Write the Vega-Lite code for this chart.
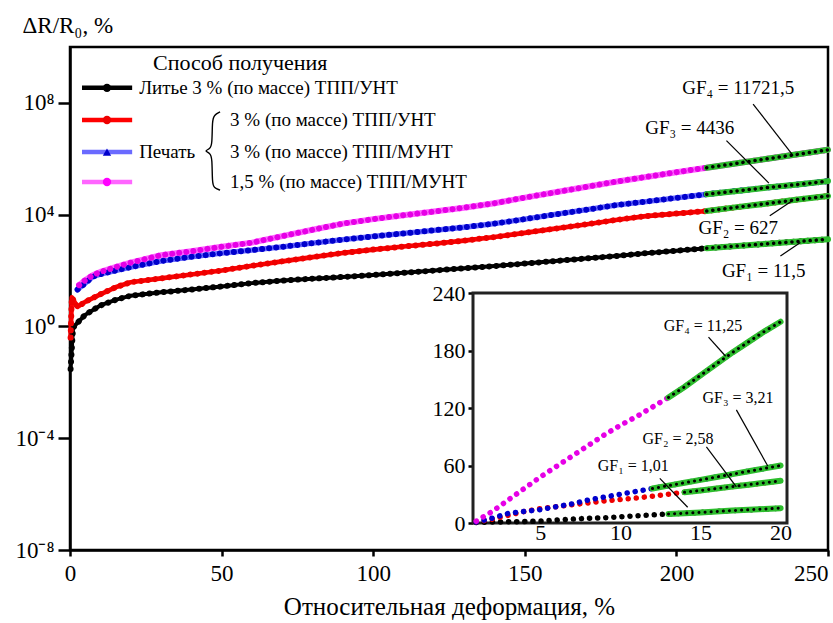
{
  "$schema": "https://vega.github.io/schema/vega-lite/v6.json",
  "width": 758,
  "height": 503,
  "autosize": {"type": "none"},
  "padding": {"left": 70, "top": 47, "right": 5, "bottom": 73},
  "background": "white",
  "config": {
    "font": "Liberation Serif",
    "view": {"stroke": "black", "strokeWidth": 2.5},
    "axis": {"grid": false, "domainColor": "black", "domainWidth": 2.5, "tickColor": "black", "tickWidth": 2.5, "labelFont": "Liberation Serif", "labelColor": "black", "titleFont": "Liberation Serif", "titleFontWeight": "normal", "titleColor": "black"},
    "text": {"font": "Liberation Serif", "color": "black"}
  },
  "datasets": {
    "main": [
      {"s":"cast","x":0.2,"y":0.03},{"s":"cast","x":1,"y":0.9},{"s":"cast","x":2.2,"y":1.26},{"s":"cast","x":5,"y":2.6},{"s":"cast","x":10,"y":5.62},{"s":"cast","x":15,"y":8.91},{"s":"cast","x":20,"y":12.6},{"s":"cast","x":30,"y":16.6},{"s":"cast","x":40,"y":20.9},{"s":"cast","x":50,"y":26.9},{"s":"cast","x":60,"y":35.5},{"s":"cast","x":70,"y":43.7},{"s":"cast","x":80,"y":51.3},{"s":"cast","x":90,"y":58.9},{"s":"cast","x":100,"y":69.2},{"s":"cast","x":110,"y":83.2},{"s":"cast","x":120,"y":100},{"s":"cast","x":130,"y":120},{"s":"cast","x":140,"y":145},{"s":"cast","x":150,"y":178},{"s":"cast","x":160,"y":219},{"s":"cast","x":170,"y":269},{"s":"cast","x":180,"y":331},{"s":"cast","x":190,"y":417},{"s":"cast","x":200,"y":513},{"s":"cast","x":210,"y":631},{"s":"cast","x":220,"y":759},{"s":"cast","x":230,"y":912},{"s":"cast","x":240,"y":1096},{"s":"cast","x":250,"y":1318},
      {"s":"p1","x":0.2,"y":0.4},{"s":"p1","x":0.6,"y":11},{"s":"p1","x":2.5,"y":5.0},{"s":"p1","x":5,"y":7.6},{"s":"p1","x":10,"y":14.1},{"s":"p1","x":15,"y":25.1},{"s":"p1","x":20,"y":38},{"s":"p1","x":30,"y":52.5},{"s":"p1","x":40,"y":72.4},{"s":"p1","x":50,"y":100},{"s":"p1","x":60,"y":148},{"s":"p1","x":70,"y":214},{"s":"p1","x":80,"y":302},{"s":"p1","x":90,"y":427},{"s":"p1","x":100,"y":562},{"s":"p1","x":110,"y":724},{"s":"p1","x":120,"y":912},{"s":"p1","x":130,"y":1175},{"s":"p1","x":140,"y":1585},{"s":"p1","x":150,"y":2239},{"s":"p1","x":160,"y":3162},{"s":"p1","x":170,"y":4467},{"s":"p1","x":180,"y":6457},{"s":"p1","x":190,"y":8913},{"s":"p1","x":200,"y":10960},{"s":"p1","x":210,"y":13490},{"s":"p1","x":220,"y":18620},{"s":"p1","x":230,"y":25120},{"s":"p1","x":240,"y":34670},{"s":"p1","x":250,"y":46770},
      {"s":"p2","x":2.5,"y":21},{"s":"p2","x":5,"y":35},{"s":"p2","x":7.5,"y":60},{"s":"p2","x":10,"y":74},{"s":"p2","x":15,"y":100},{"s":"p2","x":20,"y":132},{"s":"p2","x":30,"y":219},{"s":"p2","x":40,"y":309},{"s":"p2","x":50,"y":417},{"s":"p2","x":60,"y":537},{"s":"p2","x":70,"y":708},{"s":"p2","x":80,"y":955},{"s":"p2","x":90,"y":1288},{"s":"p2","x":100,"y":1660},{"s":"p2","x":110,"y":2138},{"s":"p2","x":120,"y":2754},{"s":"p2","x":130,"y":3548},{"s":"p2","x":140,"y":4786},{"s":"p2","x":150,"y":6918},{"s":"p2","x":160,"y":10230},{"s":"p2","x":170,"y":14790},{"s":"p2","x":180,"y":21880},{"s":"p2","x":190,"y":29510},{"s":"p2","x":200,"y":39810},{"s":"p2","x":210,"y":53700},{"s":"p2","x":220,"y":70790},{"s":"p2","x":230,"y":93330},{"s":"p2","x":240,"y":120200},{"s":"p2","x":250,"y":158500},
      {"s":"p3","x":3,"y":30},{"s":"p3","x":5,"y":45},{"s":"p3","x":7.5,"y":68},{"s":"p3","x":10,"y":89},{"s":"p3","x":15,"y":132},{"s":"p3","x":20,"y":191},{"s":"p3","x":30,"y":355},{"s":"p3","x":40,"y":490},{"s":"p3","x":50,"y":708},{"s":"p3","x":60,"y":1000},{"s":"p3","x":70,"y":1698},{"s":"p3","x":80,"y":2884},{"s":"p3","x":90,"y":4786},{"s":"p3","x":100,"y":6918},{"s":"p3","x":110,"y":9550},{"s":"p3","x":120,"y":12880},{"s":"p3","x":130,"y":17780},{"s":"p3","x":140,"y":25700},{"s":"p3","x":150,"y":40740},{"s":"p3","x":160,"y":63100},{"s":"p3","x":170,"y":97720},{"s":"p3","x":180,"y":151400},{"s":"p3","x":190,"y":223900},{"s":"p3","x":200,"y":331100},{"s":"p3","x":210,"y":478600},{"s":"p3","x":220,"y":691800},{"s":"p3","x":230,"y":1000000},{"s":"p3","x":240,"y":1445000},{"s":"p3","x":250,"y":2089000}
    ],
    "inset": [
      {"s":"cast","x":1,"y":0.5},{"s":"cast","x":2,"y":1},{"s":"cast","x":3,"y":1.3},{"s":"cast","x":4,"y":1.5},{"s":"cast","x":5,"y":2},{"s":"cast","x":6,"y":3},{"s":"cast","x":7,"y":4},{"s":"cast","x":8,"y":5},{"s":"cast","x":9,"y":5.5},{"s":"cast","x":10,"y":6.5},{"s":"cast","x":11,"y":7.5},{"s":"cast","x":12,"y":8.5},{"s":"cast","x":13,"y":9.5},{"s":"cast","x":14,"y":10.2},{"s":"cast","x":15,"y":11},{"s":"cast","x":16,"y":12},{"s":"cast","x":17,"y":13},{"s":"cast","x":18,"y":13.8},{"s":"cast","x":19,"y":14.6},{"s":"cast","x":20,"y":15.5},
      {"s":"p1","x":1,"y":1},{"s":"p1","x":2,"y":4},{"s":"p1","x":3,"y":8},{"s":"p1","x":4,"y":12},{"s":"p1","x":5,"y":15},{"s":"p1","x":6,"y":17},{"s":"p1","x":7,"y":19},{"s":"p1","x":8,"y":21},{"s":"p1","x":9,"y":23},{"s":"p1","x":10,"y":24.5},{"s":"p1","x":11,"y":26},{"s":"p1","x":12,"y":28},{"s":"p1","x":13,"y":30},{"s":"p1","x":14,"y":32},{"s":"p1","x":15,"y":34},{"s":"p1","x":16,"y":36},{"s":"p1","x":17,"y":38},{"s":"p1","x":18,"y":40},{"s":"p1","x":19,"y":42},{"s":"p1","x":20,"y":44},
      {"s":"p2","x":1,"y":1},{"s":"p2","x":2,"y":5},{"s":"p2","x":3,"y":10},{"s":"p2","x":4,"y":12},{"s":"p2","x":5,"y":14},{"s":"p2","x":6,"y":17},{"s":"p2","x":7,"y":20},{"s":"p2","x":8,"y":24},{"s":"p2","x":9,"y":27},{"s":"p2","x":10,"y":30},{"s":"p2","x":11,"y":33},{"s":"p2","x":12,"y":36},{"s":"p2","x":13,"y":39},{"s":"p2","x":14,"y":42},{"s":"p2","x":15,"y":45},{"s":"p2","x":16,"y":48},{"s":"p2","x":17,"y":51},{"s":"p2","x":18,"y":54},{"s":"p2","x":19,"y":57},{"s":"p2","x":20,"y":60},
      {"s":"p3","x":1,"y":2},{"s":"p3","x":2,"y":12},{"s":"p3","x":3,"y":24},{"s":"p3","x":4,"y":36},{"s":"p3","x":5,"y":48},{"s":"p3","x":6,"y":59},{"s":"p3","x":7,"y":70},{"s":"p3","x":8,"y":81},{"s":"p3","x":9,"y":92},{"s":"p3","x":10,"y":102},{"s":"p3","x":11,"y":111},{"s":"p3","x":12,"y":121},{"s":"p3","x":13,"y":131},{"s":"p3","x":14,"y":142},{"s":"p3","x":15,"y":154},{"s":"p3","x":16,"y":166},{"s":"p3","x":17,"y":178},{"s":"p3","x":18,"y":189},{"s":"p3","x":19,"y":200},{"s":"p3","x":20,"y":210}
    ],
    "frame": [{"x":0.8,"x2":20.4,"y":0,"y2":240}],
    "leg": [
      {"s":"cast","x1":3.96,"x2":20.5,"xm":12.2,"y":3.45e8},
      {"s":"p1","x1":3.96,"x2":20.5,"xm":12.2,"y":2.45e7},
      {"s":"p2","x1":3.96,"x2":20.5,"xm":12.2,"y":1.74e6},
      {"s":"p3","x1":3.96,"x2":20.5,"xm":12.2,"y":1.47e5}
    ],
    "legtitle": [
      {"t":"Способ получения","x":27.4,"y":2.72e9}
    ],
    "legtext": [
      {"t":"Литье 3 % (по массе) ТПП/УНТ","x":22.8,"y":3.45e8},
      {"t":"Печать","x":22.8,"y":1.74e6},
      {"t":"3 % (по массе) ТПП/УНТ","x":52.8,"y":2.45e7},
      {"t":"3 % (по массе) ТПП/МУНТ","x":52.8,"y":1.74e6},
      {"t":"1,5 % (по массе) ТПП/МУНТ","x":52.8,"y":1.47e5}
    ],
    "brace": [
      {"i":0,"x":49.5,"y":4.75e7},{"i":1,"x":47.5,"y":3.71e7},{"i":2,"x":46.9,"y":2.26e7},{"i":3,"x":46.9,"y":3.38e6},{"i":4,"x":46.2,"y":2.24e6},{"i":5,"x":44.2,"y":1.9e6},{"i":6,"x":46.2,"y":1.61e6},{"i":7,"x":46.9,"y":1.06e6},{"i":8,"x":46.9,"y":1.35e5},{"i":9,"x":47.5,"y":8.93e4},{"i":10,"x":49.5,"y":7.57e4}
    ],
    "gfm": [
      {"t":"GF₄ = 11721,5","x":220.4,"y":3.4e8},
      {"t":"GF₃ = 4436","x":204.4,"y":1.23e7},
      {"t":"GF₂ = 627","x":220.4,"y":3470},
      {"t":"GF₁ = 11,5","x":228.8,"y":95.5}
    ],
    "gfml": [
      {"x":225.3,"y":9.1e7,"x2":238.5,"y2":1.29e6},
      {"x":216.5,"y":4.47e6,"x2":230.5,"y2":1.35e5},
      {"x":230.8,"y":9120,"x2":238.2,"y2":31600},
      {"x":234.3,"y":331,"x2":240.9,"y2":1000}
    ],
    "gfi": [
      {"t":"GF₄ = 11,25","x":15.16,"y":206},
      {"t":"GF₃ = 3,21","x":17.34,"y":130},
      {"t":"GF₂ = 2,58","x":13.6,"y":88},
      {"t":"GF₁ = 1,01","x":10.8,"y":60}
    ],
    "gfil": [
      {"x":15.5,"y":194,"x2":16.57,"y2":174},
      {"x":17.24,"y":118,"x2":19.2,"y2":59.4},
      {"x":15.37,"y":79.5,"x2":17.24,"y2":37.8},
      {"x":12.46,"y":46.6,"x2":14.2,"y2":16.4}
    ]
  },
  "layer": [
    {
      "layer": [
        {
          "data": {"name": "main"},
          "mark": {"type": "line", "strokeCap": "round", "strokeJoin": "round"},
          "encoding": {
            "x": {"field": "x", "type": "quantitative", "scale": {"domain": [0, 250], "nice": false, "zero": false},
              "axis": {"title": "Относительная деформация, %", "values": [0, 50, 100, 150, 200, 250], "tickSize": 6, "labelFontSize": 23, "labelPadding": 6, "titleFontSize": 25, "titleBaseline": "middle", "titleY": 56,
                "labelAlign": {"condition": {"test": "datum.value == 250", "value": "right"}, "value": "center"}}},
            "y": {"field": "y", "type": "quantitative", "scale": {"type": "log", "domain": [1e-8, 1e10], "nice": false},
              "axis": {"title": "ΔR/R₀, %", "values": [1e-8, 1e-4, 1, 1e4, 1e8], "labelExpr": "datum.value < 1e-6 ? '10⁻⁸' : datum.value < 1e-2 ? '10⁻⁴' : datum.value < 100 ? '10⁰' : datum.value < 1e6 ? '10⁴' : '10⁸'", "tickSize": 12, "labelFontSize": 23, "labelPadding": 4, "titleAngle": 0, "titleAlign": "left", "titleBaseline": "middle", "titleX": -48, "titleY": -22, "titleFontSize": 23}},
            "color": {"field": "s", "type": "nominal", "scale": {"domain": ["cast", "p1", "p2", "p3"], "range": ["#000000", "#ff0000", "#6a6aff", "#ff66ff"]}, "legend": null},
            "strokeWidth": {"field": "s", "type": "ordinal", "scale": {"domain": ["cast", "p1", "p2", "p3"], "range": [4, 6, 2.5, 3]}, "legend": null}
          }
        },
        {
          "data": {"name": "main"},
          "mark": {"type": "line", "strokeCap": "round", "strokeDash": [0.1, 7], "strokeWidth": 6},
          "encoding": {
            "x": {"field": "x", "type": "quantitative"},
            "y": {"field": "y", "type": "quantitative"},
            "stroke": {"field": "s", "type": "nominal", "scale": {"domain": ["cast", "p1", "p2", "p3"], "range": ["#000000", "#ee0000", "#0000cc", "#e600e6"]}, "legend": null}
          }
        },
        {
          "data": {"name": "main"},
          "transform": [{"filter": "datum.x >= 210"}],
          "mark": {"type": "line", "color": "#2dbd2d", "strokeWidth": 6, "strokeCap": "round"},
          "encoding": {
            "x": {"field": "x", "type": "quantitative"},
            "y": {"field": "y", "type": "quantitative"},
            "detail": {"field": "s"}
          }
        },
        {
          "data": {"name": "main"},
          "transform": [{"filter": "datum.x >= 210"}],
          "mark": {"type": "line", "color": "#000000", "strokeWidth": 3.5, "strokeCap": "round", "strokeDash": [0.1, 6]},
          "encoding": {
            "x": {"field": "x", "type": "quantitative"},
            "y": {"field": "y", "type": "quantitative"},
            "detail": {"field": "s"}
          }
        },
        {
          "data": {"name": "leg"},
          "mark": {"type": "rule", "strokeWidth": 4.5},
          "encoding": {
            "x": {"field": "x1", "type": "quantitative"},
            "x2": {"field": "x2"},
            "y": {"field": "y", "type": "quantitative"},
            "color": {"field": "s", "type": "nominal", "legend": null}
          }
        },
        {
          "data": {"name": "leg"},
          "mark": {"type": "point", "filled": true, "size": 70, "opacity": 1},
          "encoding": {
            "x": {"field": "xm", "type": "quantitative"},
            "y": {"field": "y", "type": "quantitative"},
            "fill": {"field": "s", "type": "nominal", "scale": {"domain": ["cast", "p1", "p2", "p3"], "range": ["#000000", "#ee0000", "#0000cc", "#ff00ff"]}, "legend": null},
            "shape": {"field": "s", "type": "nominal", "scale": {"domain": ["cast", "p1", "p2", "p3"], "range": ["circle", "circle", "triangle-up", "circle"]}, "legend": null}
          }
        },
        {
          "data": {"name": "legtitle"},
          "mark": {"type": "text", "align": "left", "baseline": "middle", "fontSize": 22},
          "encoding": {
            "x": {"field": "x", "type": "quantitative"},
            "y": {"field": "y", "type": "quantitative"},
            "text": {"field": "t"}
          }
        },
        {
          "data": {"name": "legtext"},
          "mark": {"type": "text", "align": "left", "baseline": "middle", "fontSize": 19},
          "encoding": {
            "x": {"field": "x", "type": "quantitative"},
            "y": {"field": "y", "type": "quantitative"},
            "text": {"field": "t"}
          }
        },
        {
          "data": {"name": "brace"},
          "mark": {"type": "line", "color": "black", "strokeWidth": 1.4, "interpolate": "basis"},
          "encoding": {
            "x": {"field": "x", "type": "quantitative"},
            "y": {"field": "y", "type": "quantitative"},
            "order": {"field": "i"}
          }
        },
        {
          "data": {"name": "gfml"},
          "mark": {"type": "rule", "color": "black", "strokeWidth": 1.2},
          "encoding": {
            "x": {"field": "x", "type": "quantitative"},
            "y": {"field": "y", "type": "quantitative"},
            "x2": {"field": "x2"},
            "y2": {"field": "y2"}
          }
        },
        {
          "data": {"name": "gfm"},
          "mark": {"type": "text", "align": "center", "baseline": "middle", "fontSize": 19},
          "encoding": {
            "x": {"field": "x", "type": "quantitative"},
            "y": {"field": "y", "type": "quantitative"},
            "text": {"field": "t"}
          }
        }
      ]
    },
    {
      "layer": [
        {
          "data": {"name": "frame"},
          "mark": {"type": "rect", "fill": "white", "stroke": "#222222", "strokeWidth": 3},
          "encoding": {
            "x": {"field": "x", "type": "quantitative", "scale": {"domain": [0.8, 20.4], "range": [403, 717], "nice": false, "zero": false},
              "axis": {"orient": "bottom", "offset": -27, "values": [5, 10, 15, 20], "title": null, "ticks": false, "labelPadding": -1, "labelFontSize": 22, "domain": false}},
            "x2": {"field": "x2"},
            "y": {"field": "y", "type": "quantitative", "scale": {"domain": [0, 240], "range": [476, 246], "nice": false, "zero": false},
              "axis": {"orient": "left", "offset": -403, "values": [0, 60, 120, 180, 240], "title": null, "tickSize": 5, "labelPadding": 3, "labelFontSize": 22, "domain": false}},
            "y2": {"field": "y2"}
          }
        },
        {
          "data": {"name": "inset"},
          "mark": {"type": "line", "strokeCap": "round", "strokeDash": [0.1, 8], "strokeWidth": 5.5},
          "encoding": {
            "x": {"field": "x", "type": "quantitative"},
            "y": {"field": "y", "type": "quantitative"},
            "stroke": {"field": "s", "type": "nominal", "legend": null}
          }
        },
        {
          "data": {"name": "inset"},
          "transform": [{"filter": "(datum.s == 'p3' && datum.x >= 13) || (datum.s == 'p2' && datum.x >= 12) || (datum.s == 'p1' && datum.x >= 14) || (datum.s == 'cast' && datum.x >= 13)"}],
          "mark": {"type": "line", "color": "#2dbd2d", "strokeWidth": 6, "strokeCap": "round"},
          "encoding": {
            "x": {"field": "x", "type": "quantitative"},
            "y": {"field": "y", "type": "quantitative"},
            "detail": {"field": "s"}
          }
        },
        {
          "data": {"name": "inset"},
          "transform": [{"filter": "(datum.s == 'p3' && datum.x >= 13) || (datum.s == 'p2' && datum.x >= 12) || (datum.s == 'p1' && datum.x >= 14) || (datum.s == 'cast' && datum.x >= 13)"}],
          "mark": {"type": "line", "color": "#000000", "strokeWidth": 3, "strokeCap": "round", "strokeDash": [0.1, 6]},
          "encoding": {
            "x": {"field": "x", "type": "quantitative"},
            "y": {"field": "y", "type": "quantitative"},
            "detail": {"field": "s"}
          }
        },
        {
          "data": {"name": "gfil"},
          "mark": {"type": "rule", "color": "black", "strokeWidth": 1.2},
          "encoding": {
            "x": {"field": "x", "type": "quantitative"},
            "y": {"field": "y", "type": "quantitative"},
            "x2": {"field": "x2"},
            "y2": {"field": "y2"}
          }
        },
        {
          "data": {"name": "gfi"},
          "mark": {"type": "text", "align": "center", "baseline": "middle", "fontSize": 16},
          "encoding": {
            "x": {"field": "x", "type": "quantitative"},
            "y": {"field": "y", "type": "quantitative"},
            "text": {"field": "t"}
          }
        }
      ]
    }
  ],
  "resolve": {"scale": {"x": "independent", "y": "independent"}}
}
